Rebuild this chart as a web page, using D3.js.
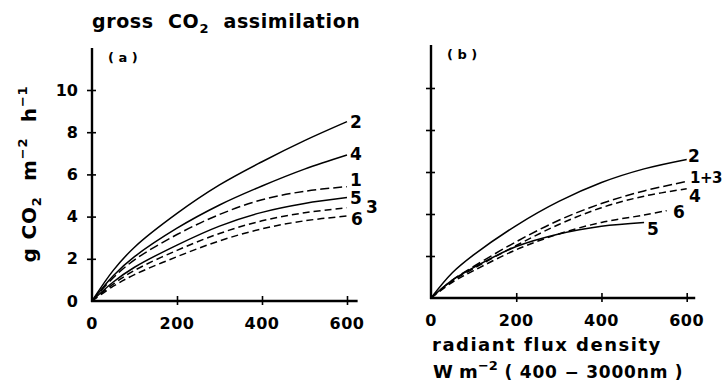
<!DOCTYPE html>
<html>
<head>
  <meta charset="utf-8">
  <script src="https://cdn.jsdelivr.net/npm/d3@7"></script>
  <style>
    body { margin: 0; background: #fff; }
    svg text { font-family: "DejaVu Sans", sans-serif; font-weight: bold; fill: #000; }
  </style>
</head>
<body>
  <svg width="723" height="392" id="mainsvg"></svg>
  <script>
    // radiant flux density (W m-2) at which the curves were read
    const flux = [0, 50, 100, 200, 300, 400, 500, 600];
    const fluxB5 = [0, 50, 100, 200, 300, 400, 500];
    const fluxB6 = [0, 50, 100, 200, 300, 400, 500, 553];

    // panel (a): gross CO2 assimilation, g CO2 m-2 h-1
    const a2 = [0, 1.45, 2.55, 4.15, 5.5, 6.6, 7.6, 8.5];
    const a4 = [0, 1.2, 2.1, 3.45, 4.55, 5.45, 6.25, 6.92];
    const a1 = [0, 1.1, 1.95, 3.15, 4.1, 4.8, 5.2, 5.42];
    const a5 = [0, 0.9, 1.6, 2.65, 3.55, 4.2, 4.62, 4.9];
    const a3 = [0, 0.8, 1.45, 2.4, 3.2, 3.8, 4.18, 4.42];
    const a6 = [0, 0.7, 1.25, 2.1, 2.85, 3.42, 3.8, 4.03];

    // panel (b)
    const b2 = [0, 1.2, 2.05, 3.45, 4.6, 5.5, 6.15, 6.6];
    const b13 = [0, 0.85, 1.5, 2.68, 3.7, 4.5, 5.1, 5.55];
    const b4 = [0, 0.8, 1.4, 2.5, 3.5, 4.3, 4.85, 5.2];
    const b6 = [0, 0.75, 1.3, 2.3, 3.05, 3.6, 3.95, 4.16];
    const b5 = [0, 0.85, 1.45, 2.45, 3.05, 3.42, 3.6];

    const yTicks = [0, 2, 4, 6, 8, 10];
    const xTicks = [0, 200, 400, 600];

    const svg = d3.select('svg');

    const solid = null;
    const dashLong = '9,4';
    const dashShort = '7,4';

    const panels = [
      {
        name: '( a )', x0: 92, x600: 347, y0: 301, y10: 90, top: 48, xEnd: 625, yLabels: true,
        series: [
          {label: '2', xs: flux, ys: a2, dash: solid, lx: 350, ly: 128},
          {label: '4', xs: flux, ys: a4, dash: solid, lx: 350, ly: 160},
          {label: '1', xs: flux, ys: a1, dash: dashLong, lx: 350, ly: 186},
          {label: '5', xs: flux, ys: a5, dash: solid, lx: 350, ly: 204},
          {label: '3', xs: flux, ys: a3, dash: dashShort, lx: 366, ly: 213},
          {label: '6', xs: flux, ys: a6, dash: dashShort, lx: 351, ly: 225}
        ]
      },
      {
        name: '( b )', x0: 431, x600: 686.7, y0: 298, y10: 88, top: 45, xEnd: 620, yLabels: false,
        series: [
          {label: '2', xs: flux, ys: b2, dash: solid, lx: 688, ly: 162},
          {label: '1+3', xs: flux, ys: b13, dash: dashLong, lx: 690, ly: 183},
          {label: '4', xs: flux, ys: b4, dash: dashShort, lx: 689, ly: 202},
          {label: '6', xs: fluxB6, ys: b6, dash: dashShort, lx: 673, ly: 218},
          {label: '5', xs: fluxB5, ys: b5, dash: solid, lx: 647, ly: 235}
        ]
      }
    ];

    panels.forEach(p => {
      const xScale = d3.scaleLinear().domain([0, 600]).range([p.x0, p.x600]);
      const yScale = d3.scaleLinear().domain([0, 10]).range([p.y0, p.y10]);
      const g = svg.append('g');

      // axes, ticks crossing the axis line
      const yAxis = d3.axisLeft(yScale).tickValues(yTicks.slice(1)).tickSize(4)
        .tickFormat(p.yLabels ? d3.format('d') : '');
      const yAxisGroup = g.append('g').attr('transform', `translate(${p.x0},0)`).call(yAxis);
      yAxisGroup.select('.domain').remove();
      yAxisGroup.selectAll('.tick line').attr('x1', -5).attr('x2', 4).attr('stroke-width', 1.6);
      yAxisGroup.selectAll('.tick text').attr('x', -14).attr('font-size', 16)
        .attr('font-family', 'DejaVu Sans').attr('font-weight', 'bold');

      const xAxis = d3.axisBottom(xScale).tickValues(xTicks.slice(1)).tickSize(4).tickFormat('');
      const xAxisGroup = g.append('g').attr('transform', `translate(0,${p.y0})`).call(xAxis);
      xAxisGroup.select('.domain').remove();
      xAxisGroup.selectAll('.tick line').attr('y1', -5).attr('y2', 4).attr('stroke-width', 1.6);

      g.append('line').attr('x1', p.x0).attr('x2', p.x0)
        .attr('y1', p.y0 + 1).attr('y2', p.top)
        .attr('stroke', '#000').attr('stroke-width', 2.4);
      g.append('line').attr('x1', p.x0 - 1).attr('x2', xScale(p.xEnd))
        .attr('y1', p.y0).attr('y2', p.y0)
        .attr('stroke', '#000').attr('stroke-width', 2.4);

      if (p.yLabels) {
        g.append('text').attr('x', p.x0 - 14).attr('y', yScale(0) + 6)
          .attr('text-anchor', 'end').attr('font-size', 16).text('0');
      }

      g.selectAll('.xlab').data(xTicks).join('text')
        .attr('class', 'xlab')
        .attr('x', d => xScale(d)).attr('y', p.y0 + 28)
        .attr('text-anchor', 'middle').attr('font-size', 16)
        .attr('letter-spacing', 0.5)
        .text(d => d);

      g.append('text').attr('x', p.x0 + 16).attr('y', p.top + 14)
        .attr('font-size', 13)
        .attr('xml:space', 'preserve').text(p.name);

      const line = d3.line()
        .x(d => xScale(d[0])).y(d => yScale(d[1]))
        .curve(d3.curveCatmullRom.alpha(0.5));

      g.selectAll('.curve').data(p.series).join('path')
        .attr('class', 'curve')
        .attr('d', s => line(s.xs.map((x, i) => [x, s.ys[i]])))
        .attr('fill', 'none').attr('stroke', '#000')
        .attr('stroke-width', 1.5)
        .attr('stroke-dasharray', s => s.dash);

      g.selectAll('.clab').data(p.series).join('text')
        .attr('class', 'clab')
        .attr('x', s => s.lx).attr('y', s => s.ly)
        .attr('font-size', s => s.label.length > 1 ? 15 : 17)
        .attr('letter-spacing', s => s.label.length > 1 ? -0.5 : 0)
        .text(s => s.label);
    });

    // titles
    const title = svg.append('text').attr('x', 92).attr('y', 28).attr('font-size', 19)
      .attr('letter-spacing', 0.6).attr('xml:space', 'preserve');
    title.append('tspan').text('gross  CO');
    title.append('tspan').attr('font-size', 13).attr('dy', 5).text('2');
    title.append('tspan').attr('dy', -5).text('  assimilation');

    const yTitle = svg.append('text')
      .attr('transform', 'translate(36,174) rotate(-90)')
      .attr('text-anchor', 'middle').attr('font-size', 20)
      .attr('letter-spacing', 0.8).attr('xml:space', 'preserve');
    yTitle.append('tspan').text('g CO');
    yTitle.append('tspan').attr('font-size', 13).attr('dy', 5).text('2');
    yTitle.append('tspan').attr('dy', -5).text('  m');
    yTitle.append('tspan').attr('font-size', 13).attr('dy', -9).text('−2');
    yTitle.append('tspan').attr('dy', 9).text('  h');
    yTitle.append('tspan').attr('font-size', 13).attr('dy', -9).text('−1');

    svg.append('text').attr('x', 432).attr('y', 351).attr('font-size', 18)
      .attr('letter-spacing', 1.5).text('radiant flux density');
    const xTitle = svg.append('text').attr('x', 433).attr('y', 378).attr('font-size', 18)
      .attr('xml:space', 'preserve');
    xTitle.append('tspan').text('W m');
    xTitle.append('tspan').attr('font-size', 13).attr('dy', -8).text('−2');
    xTitle.append('tspan').attr('dy', 8).attr('font-size', 17).attr('letter-spacing', 0.8)
      .text(' ( 400 − 3000nm )');
  </script>
</body>
</html>
